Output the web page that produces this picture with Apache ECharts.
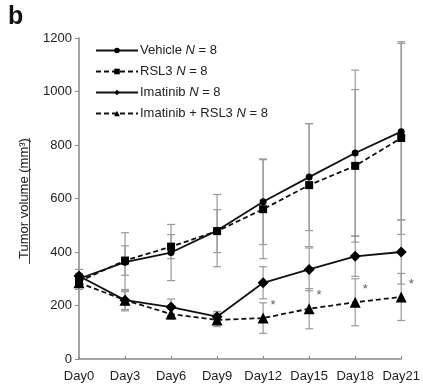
<!DOCTYPE html>
<html><head><meta charset="utf-8">
<script src="https://cdn.jsdelivr.net/npm/echarts@6/dist/echarts.min.js"></script>
<style>html,body{margin:0;padding:0;background:#fff}#c{width:423px;height:392px}</style>
</head><body><div id="c"></div>
<script>
const categories = ['Day0','Day3','Day6','Day9','Day12','Day15','Day18','Day21'];
const vehicle = [300, 362, 398, 480, 588, 680, 770, 850];
const vehicleErr = [20, 110, 105, 135, 160, 200, 310, 330];
const rsl3 = [290, 368, 420, 478, 560, 650, 722, 826];
const rsl3Err = [20, 55, 45, 80, 185, 230, 285, 360];
const imatinib = [310, 220, 194, 158, 285, 335, 384, 400];
const imatinibErr = [25, 40, 30, 20, 60, 80, 75, 120];
const combo = [285, 220, 168, 146, 153, 188, 212, 232];
const comboErr = [25, 35, 20, 25, 57, 75, 88, 88];
const sigMarks = ['', '', '', '', '*', '*', '*', '*'];
const yTicks = [0, 200, 400, 600, 800, 1000, 1200];

const FONT = '"Liberation Sans", Arial, sans-serif';
const chart = echarts.init(document.getElementById('c'));

function errData(vals, errs){ return vals.map((v,i)=>[i, v, errs[i]]); }
function errSeries(vals, errs){
  return {
    type: 'custom', z: 1, silent: true,
    data: errData(vals, errs),
    renderItem: function(params, api){
      const x = api.value(0), v = api.value(1), e = api.value(2);
      const top = api.coord([x, v + e]);
      const bot = api.coord([x, v - e]);
      const w = 4;
      const st = {stroke: '#9a9a9a', lineWidth: 1.2};
      return {type: 'group', children: [
        {type: 'line', shape: {x1: top[0], y1: top[1], x2: bot[0], y2: bot[1]}, style: st},
        {type: 'line', shape: {x1: top[0]-w, y1: top[1], x2: top[0]+w, y2: top[1]}, style: st},
        {type: 'line', shape: {x1: bot[0]-w, y1: bot[1], x2: bot[0]+w, y2: bot[1]}, style: st}
      ]};
    }
  };
}
function lineSeries(name, data, symbol, size, dashed){
  return {
    name: name, type: 'line', data: data, z: 3,
    symbol: symbol, symbolSize: size,
    itemStyle: {color: '#000'},
    lineStyle: {color: '#111', width: 1.8, type: dashed ? [5, 3] : 'solid'},
    emphasis: {disabled: true}, animation: false
  };
}

chart.setOption({
  animation: false,
  textStyle: {fontFamily: FONT},
  grid: {left: 79, right: 18, top: 38, bottom: 33},
  legend: {
    orient: 'vertical', left: 90, top: 39, itemWidth: 42, itemHeight: 7, itemGap: 8,
    itemStyle: {color: '#000'},
    textStyle: {fontFamily: FONT, fontSize: 13, color: '#222', padding: [0, 0, 0, -3],
      rich: {i: {fontStyle: 'italic', fontFamily: FONT, fontSize: 13, color: '#222'}}},
    formatter: function(n){ return n.replace(' N = 8', ' {i|N} = 8'); },
    data: ['Vehicle N = 8', 'RSL3 N = 8', 'Imatinib N = 8', 'Imatinib + RSL3 N = 8']
  },
  xAxis: {
    type: 'category', data: categories, boundaryGap: false,
    axisLine: {lineStyle: {color: '#888', width: 1.5}},
    axisTick: {inside: true, length: 3, lineStyle: {color: '#888'}},
    axisLabel: {color: '#222', fontSize: 13, fontFamily: FONT, margin: 11, interval: 0}
  },
  yAxis: {
    type: 'value', min: 0, max: 1200, interval: 200,
    name: 'Tumor volume (mm³)', nameLocation: 'middle', nameGap: 48,
    nameTextStyle: {color: '#222', fontSize: 13, fontFamily: FONT},
    axisLine: {show: true, lineStyle: {color: '#888', width: 1.5}},
    axisTick: {show: true, length: 4, lineStyle: {color: '#888'}},
    axisLabel: {color: '#222', fontSize: 13, fontFamily: FONT, margin: 7,
      formatter: function(v){ return String(v); }},
    splitLine: {show: false}
  },
  graphic: [
    {type: 'text', left: 8, top: 5, style: {text: 'b', font: 'bold 25px ' + FONT, fill: '#111'}},
    {type: 'rect', shape: {x: 29, y: 138, width: 1, height: 126}, style: {fill: '#444'}}
  ],
  series: [
    errSeries(vehicle, vehicleErr),
    errSeries(rsl3, rsl3Err),
    errSeries(imatinib, imatinibErr),
    errSeries(combo, comboErr),
    lineSeries('Vehicle N = 8', vehicle, 'circle', 7, false),
    lineSeries('RSL3 N = 8', rsl3, 'rect', 8, true),
    lineSeries('Imatinib N = 8', imatinib, 'diamond', 11, false),
    lineSeries('Imatinib + RSL3 N = 8', combo, 'triangle', 11, true),
    {
      type: 'scatter', z: 4, symbolSize: 0, silent: true,
      data: combo.map((v,i)=>[i, v]),
      label: {show: true, position: 'inside', offset: [10, -13],
        formatter: function(p){ return sigMarks[p.dataIndex]; },
        fontSize: 13, color: '#333', fontFamily: FONT}
    }
  ]
});
</script></body></html>
